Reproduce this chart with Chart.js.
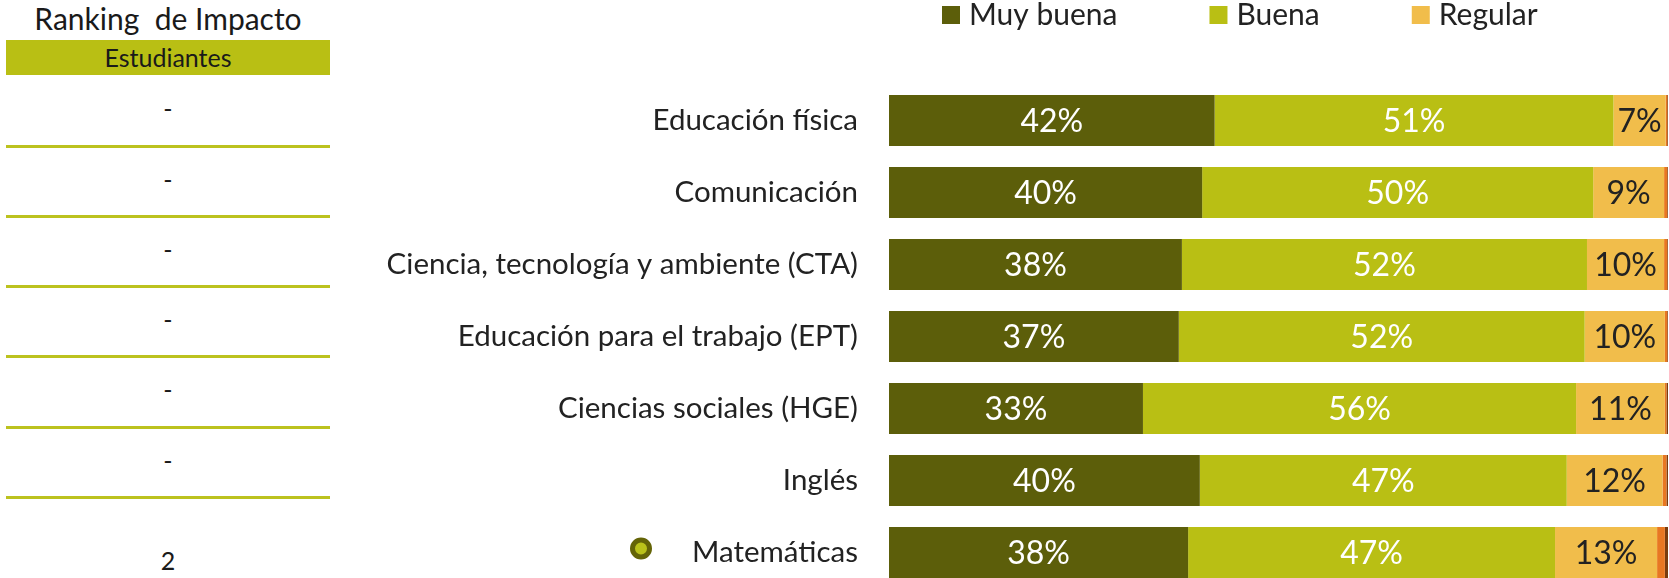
<!DOCTYPE html>
<html lang="es">
<head>
<meta charset="utf-8">
<title>Ranking de Impacto</title>
<script src="https://cdn.jsdelivr.net/npm/chart.js@4.4.1/dist/chart.umd.min.js"></script>
<style>
  html, body { margin: 0; padding: 0; background: #fff; overflow: hidden; }
  #wrap { position: relative; width: 1669px; height: 578px; overflow: hidden; font-family: Lato, "Open Sans", sans-serif; color: #1a1a1a; }
  #chart { position: absolute; left: 0; top: 0; }
  #ranking { position: absolute; left: 0; top: 0; width: 340px; height: 578px; }
  #ranking .title { position: absolute; left: 6px; width: 324px; top: 0px; text-align: center; font-size: 30px; white-space: pre; }
  #ranking .band { position: absolute; left: 6px; width: 324px; top: 40px; height: 35px; background: #b9bf14; text-align: center; font-size: 25px; line-height: 35px; }
  #ranking .cell { position: absolute; left: 6px; width: 324px; text-align: center; font-size: 25px; }
  #ranking .rule { position: absolute; left: 6px; width: 324px; height: 3px; background: #bcc21f; }
</style>
</head>
<body>
<div id="wrap">
  <div id="ranking"></div>
  <canvas id="chart" width="1669" height="590"></canvas>
</div>
<script>
// Courses, top to bottom
const cursos = [
  'Educación física',
  'Comunicación',
  'Ciencia, tecnología y ambiente (CTA)',
  'Educación para el trabajo (EPT)',
  'Ciencias sociales (HGE)',
  'Inglés',
  'Matemáticas'
];

// Share of answers per course (%)
const muyBuena = [41.8, 40.2, 37.6, 37.2, 32.6, 39.9, 38.4];
const buena    = [51.2, 50.2, 52.0, 52.1, 55.6, 47.1, 47.1];
const regular  = [6.7, 9.1, 9.9, 10.3, 11.4, 12.3, 13.1];
const mala     = [0.2, 0.4, 0.4, 0.3, 0.2, 0.5, 1.0];
const muyMala  = [0.1, 0.1, 0.1, 0.1, 0.2, 0.2, 0.4];

// Left table: impact ranking among students
const rankingTitulo = 'Ranking  de Impacto';
const rankingColumna = 'Estudiantes';
const rankingEstudiantes = ['-', '-', '-', '-', '-', '-', '2'];
const destacado = [false, false, false, false, false, false, true];

const COLORS = {
  muyBuena: '#5c5e0a',
  buena: '#b9bf14',
  regular: '#f1bd4b',
  mala: '#e87722',
  muyMala: '#7a3c0e',
  text: '#222222'
};
const FONT = 'Lato, "Open Sans", sans-serif';

// ---- ranking table on the left ----
function buildRanking() {
  const box = document.getElementById('ranking');
  let html = `<div class="title">${rankingTitulo}</div>`;
  html += `<div class="band">${rankingColumna}</div>`;
  const rowTops = [75, 146, 216, 286, 356, 427, 497];
  rankingEstudiantes.forEach((v, i) => {
    const top = rowTops[i];
    const last = i === rankingEstudiantes.length - 1;
    html += `<div class="cell" style="top:${last ? top + 48 : top + 18}px">${v}</div>`;
    if (!last) html += `<div class="rule" style="top:${rowTops[i + 1] - 1}px"></div>`;
  });
  box.innerHTML = html;
}
buildRanking();

// ---- value labels inside the segments ----
const segmentLabels = {
  id: 'segmentLabels',
  afterDatasetsDraw(chart) {
    const ctx = chart.ctx;
    ctx.save();
    ctx.font = `32px ${FONT}`;
    ctx.textAlign = 'center';
    ctx.textBaseline = 'middle';
    chart.data.datasets.forEach((ds, di) => {
      if (!ds.showLabel) return;
      chart.getDatasetMeta(di).data.forEach((bar, i) => {
        const { x, y, base } = bar.getProps(['x', 'y', 'base'], true);
        ctx.fillStyle = ds.labelColor;
        ctx.fillText(Math.round(ds.data[i]) + '%', (x + base) / 2, y + 1);
      });
    });
    ctx.restore();
  }
};

// ---- legend across the top ----
const topLegend = {
  id: 'topLegend',
  afterDraw(chart) {
    const ctx = chart.ctx;
    ctx.save();
    ctx.font = `30px ${FONT}`;
    ctx.textBaseline = 'middle';
    let x = 942;
    const y = 15;
    chart.data.datasets.filter(ds => ds.inLegend).forEach(ds => {
      ctx.fillStyle = ds.backgroundColor;
      ctx.fillRect(x, y - 9, 18, 18);
      ctx.fillStyle = COLORS.text;
      ctx.fillText(ds.label, x + 27, y);
      x += 27 + ctx.measureText(ds.label).width + 92;
    });
    ctx.restore();
  }
};

// ---- marker next to the highlighted course ----
const courseMarker = {
  id: 'courseMarker',
  afterDraw(chart) {
    const ctx = chart.ctx;
    const yScale = chart.scales.y;
    ctx.save();
    destacado.forEach((on, i) => {
      if (!on) return;
      const y = yScale.getPixelForValue(i) - 4;
      ctx.beginPath();
      ctx.arc(641, y, 8.5, 0, Math.PI * 2);
      ctx.fillStyle = '#bac21a';
      ctx.fill();
      ctx.lineWidth = 5;
      ctx.strokeStyle = '#646407';
      ctx.stroke();
    });
    ctx.restore();
  }
};

function dataset(label, data, color, extra) {
  return Object.assign({
    label,
    data,
    backgroundColor: color,
    borderWidth: 0,
    barPercentage: 0.71,
    categoryPercentage: 1
  }, extra);
}

new Chart(document.getElementById('chart').getContext('2d'), {
  type: 'bar',
  data: {
    labels: cursos,
    datasets: [
      dataset('Muy buena', muyBuena, COLORS.muyBuena, { showLabel: true, labelColor: '#ffffff', inLegend: true }),
      dataset('Buena', buena, COLORS.buena, { showLabel: true, labelColor: '#ffffff', inLegend: true }),
      dataset('Regular', regular, COLORS.regular, { showLabel: true, labelColor: COLORS.text, inLegend: true }),
      dataset('Mala', mala, COLORS.mala),
      dataset('Muy mala', muyMala, COLORS.muyMala)
    ]
  },
  options: {
    indexAxis: 'y',
    responsive: false,
    animation: false,
    layout: { padding: { top: 84.5, bottom: 1.5, left: 0, right: 1 } },
    plugins: {
      legend: { display: false },
      tooltip: { enabled: false }
    },
    scales: {
      x: { stacked: true, min: 0, max: 100, display: false },
      y: {
        stacked: true,
        grid: { display: false, drawTicks: false },
        border: { display: false },
        ticks: {
          padding: 31,
          color: COLORS.text,
          font: { family: FONT, size: 29.5 }
        },
        afterFit(scale) {
          scale.width = 889;
          // labels sit inside their rows, no extra room needed above/below
          scale.paddingTop = 0;
          scale.paddingBottom = 0;
        }
      }
    }
  },
  plugins: [segmentLabels, topLegend, courseMarker]
});
</script>
</body>
</html>
